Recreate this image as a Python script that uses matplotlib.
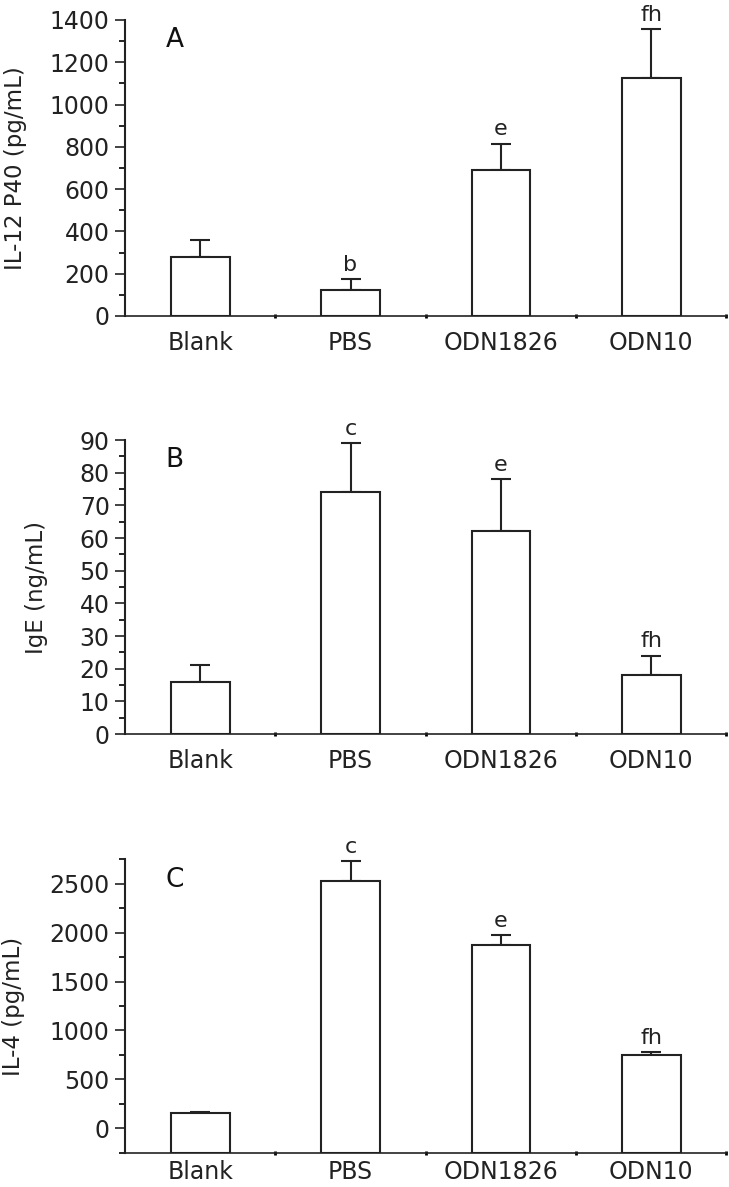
import matplotlib.pyplot as plt
from matplotlib.ticker import MultipleLocator
import numpy as np

groups = ["Blank", "PBS", "ODN1826", "ODN10"]

il12_mean = [280, 125, 690, 1125]
il12_err = [80, 50, 125, 230]
il12_marks = ["", "b", "e", "fh"]

ige_mean = [16, 74, 62, 18]
ige_err = [5, 15, 16, 6]
ige_marks = ["", "c", "e", "fh"]

il4_mean = [150, 2530, 1870, 750]
il4_err = [20, 200, 105, 25]
il4_marks = ["", "c", "e", "fh"]

plt.rcParams['font.family'] = ['DejaVu Sans']

fig = plt.figure(figsize=(7.29, 11.87), dpi=100)

panels = [
    # letter, values, errors, marks, ylabel, ylim, major, minor, rect, label x, x pad
    ("A", il12_mean, il12_err, il12_marks, "IL-12 P40 (pg/mL)", (0, 1400), 200, 100,
     [0.1715, 0.7338, 0.825, 0.2494], -0.163, 11),
    ("B", ige_mean, ige_err, ige_marks, "IgE (ng/mL)", (0, 90), 10, 5,
     [0.1715, 0.3816, 0.825, 0.2477], -0.128, 11),
    ("C", il4_mean, il4_err, il4_marks, "IL-4 (pg/mL)", (-250, 2750), 500, 250,
     [0.1715, 0.0290, 0.825, 0.2470], -0.167, 5),
]

x = np.arange(len(groups))
for letter, vals, errs, marks, ylab, ylim, major, minor, rect, lx, xpad in panels:
    ax = fig.add_axes(rect)
    base = ylim[0]
    heights = [v - base for v in vals]
    ax.bar(x, heights, bottom=base, width=0.39, color="white", edgecolor="#222222",
           linewidth=1.5, zorder=2)
    ax.errorbar(x, vals, yerr=[np.zeros(len(vals)), errs], fmt="none",
                ecolor="#222222", elinewidth=1.5, capsize=7, capthick=1.5, zorder=1)
    span = ylim[1] - ylim[0]
    for xi, v, e, m in zip(x, vals, errs, marks):
        if m:
            ax.text(xi, v + e + span * 0.015, m, ha="center", va="bottom", fontsize=16,
                    color="#222222")
    ax.text(0.067, 0.975, letter, transform=ax.transAxes, ha="left", va="top",
            fontsize=19, color="#111111")
    ax.set_xlim(-0.5, 3.5)
    ax.set_ylim(*ylim)
    ax.yaxis.set_major_locator(MultipleLocator(major))
    ax.yaxis.set_minor_locator(MultipleLocator(minor))
    if letter == "C":
        ax.set_yticks(np.arange(0, 2501, 500))
    ax.set_xticks(x)
    ax.set_xticklabels(groups)
    ax.set_xticks(np.arange(0.5, 3.6, 1.0), minor=True)
    ax.tick_params(axis="x", which="major", length=0, labelsize=17, pad=xpad, colors="#222222")
    ax.tick_params(axis="x", which="minor", length=3, width=2, direction="inout")
    ax.tick_params(axis="y", which="major", length=7, width=1.2, labelsize=17, pad=4,
                   colors="#222222")
    ax.tick_params(axis="y", which="minor", length=4, width=1.2)
    ax.set_ylabel(ylab, fontsize=16.5, color="#222222")
    ax.yaxis.set_label_coords(lx, 0.5)
    for s in ["top", "right"]:
        ax.spines[s].set_visible(False)
    ax.spines["left"].set_linewidth(1.5)
    ax.spines["bottom"].set_linewidth(1.2)
    ax.spines["left"].set_color("#222222")
    ax.spines["bottom"].set_color("#222222")

fig.savefig("out.png", dpi=100)
